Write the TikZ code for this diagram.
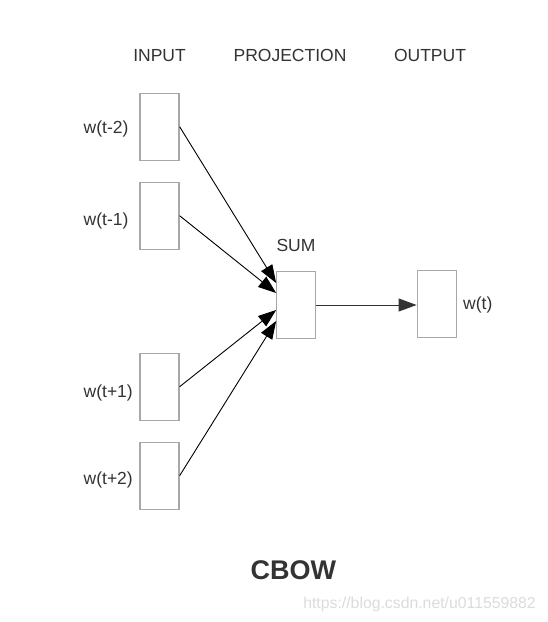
\documentclass[tikz,border=0pt]{standalone}
\usepackage{fontspec}
\setmainfont{Liberation Sans}
\usetikzlibrary{arrows.meta}
\definecolor{txt}{HTML}{333333}
\definecolor{boxc}{HTML}{A8A8A8}
\definecolor{wmark}{HTML}{DCDCDC}
\begin{document}
\begin{tikzpicture}[x=1pt,y=-1pt,
  unit/.style={draw=boxc, line width=1.3pt, fill=white, minimum width=39pt, minimum height=67pt, inner sep=0pt},
  lbl/.style={text=txt, font=\fontsize{17.5}{20}\selectfont, inner sep=0pt},
  conn/.style={draw=black, line width=0.9pt, -{Triangle[length=18pt,width=13pt]}}]
\useasboundingbox[fill=white] (0,0) rectangle (547,622);
% boxes
\node[unit] (in1) at (159.5,126.7) {};
\node[unit] (in2) at (159.5,215.7) {};
\node[unit] (in3) at (159.5,386.7) {};
\node[unit] (in4) at (159.5,475.7) {};
\node[unit] (sum) at (296.3,305) {};
\node[unit] (out) at (436.7,304) {};
% headings
\node[lbl, anchor=base] (hin) at (159.5,61.7) {INPUT};
\node[lbl, anchor=base] (hproj) at (290,61.7) {PROJECTION};
\node[lbl, anchor=base] (hout) at (430,61.7) {OUTPUT};
% labels
\node[lbl, anchor=base west] (l1) at (83.5,133) {w(t-2)};
\node[lbl, anchor=base west] (l2) at (83.5,225.5) {w(t-1)};
\node[lbl, anchor=base west] (l3) at (83.5,397) {w(t+1)};
\node[lbl, anchor=base west] (l4) at (83.5,484) {w(t+2)};
\node[lbl, anchor=base] (lsum) at (296,251.7) {SUM};
\node[lbl, anchor=base west] (lout) at (463,309) {w(t)};
% connectors
\draw[conn] (in1.east) -- ([yshift=22pt]sum.west);
\draw[conn] (in2.east) -- ([yshift=12pt]sum.west);
\draw[conn] (in3.east) -- ([yshift=-5pt]sum.west);
\draw[conn] (in4.east) -- ([yshift=-16pt]sum.west);
\draw[conn, draw=txt] (sum.east) -- (out.west |- sum.east);
% title
\node[anchor=base, text=txt, font=\fontsize{27}{30}\selectfont\bfseries, inner sep=0pt] (title) at (293.3,579.3) {CBOW};
\node[anchor=base east, text=wmark, font=\fontsize{15.8}{18}\selectfont, inner sep=0pt] (wm) at (536,608.3) {https://blog.csdn.net/u011559882};
\end{tikzpicture}
\end{document}
